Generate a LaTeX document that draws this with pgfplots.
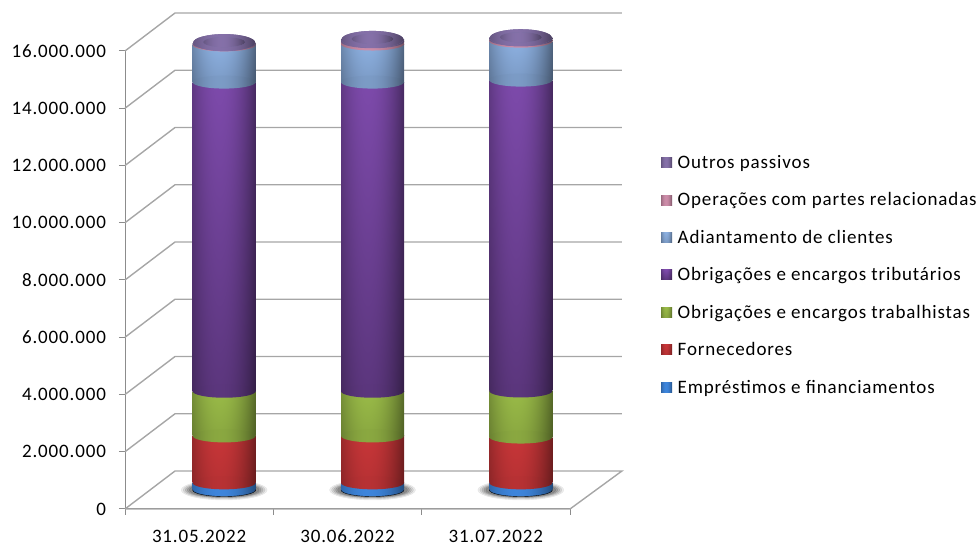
\documentclass[border=0pt]{standalone}
\usepackage{pgfplots}
\usepackage{pgfplotstable}
\pgfplotsset{compat=1.18}
\usepackage{fontspec}
\setmainfont[LetterSpace=4.5]{Carlito}
\definecolor{gridc}{HTML}{A6A6A6}
\definecolor{tickc}{HTML}{8C8C8C}
\newcommand{\cyl}[6]{%
 \pgfdeclarefunctionalshading{cyl#1}{\pgfpointorigin}{\pgfpoint{100bp}{100bp}}{}{%
   25 sub 50 div #6 #5 sub mul #5 add exch
   25 sub 50 div 0.42 sub dup mul 1.3 mul 1 exch sub mul
   dup #2 mul exch dup #3 mul exch #4 mul}%
 \pgfdeclarefunctionalshading{rim#1}{\pgfpointorigin}{\pgfpoint{100bp}{100bp}}{}{%
   pop 25 sub 50 div 0.42 sub dup mul 1.3 mul 1 exch sub #5 mul
   dup #2 mul exch dup #3 mul exch #4 mul}%
 \pgfdeclareplotmark{cap#1}{\path[shading=rim#1] (0,0) ellipse (31.5pt and 6.5pt);}%
}
\cyl{A}{0.24}{0.52}{0.86}{1}{1}
\cyl{B}{0.78}{0.21}{0.22}{0.92}{1}
\cyl{C}{0.60}{0.73}{0.28}{0.9}{1}
\cyl{D}{0.49}{0.29}{0.67}{0.73}{1}
\cyl{E}{0.55}{0.69}{0.88}{0.88}{1}
\cyl{F}{0.80}{0.55}{0.66}{1}{1}
\cyl{G}{0.52}{0.44}{0.66}{1}{1}
\definecolor{topc}{HTML}{7C6B9E}
\definecolor{topi}{HTML}{7872A4}
\pgfdeclareplotmark{topcap}{\path[fill=topc] (0,0) ellipse (31pt and 8.5pt);\path[fill=topi] (0,0.5pt) ellipse (21pt and 5pt);}
\pgfdeclareplotmark{shadowM}{%
  \path[fill=black,opacity=0.07] (0,0) ellipse (43pt and 10pt);
  \path[fill=black,opacity=0.10] (0,0) ellipse (41pt and 9pt);
  \path[fill=black,opacity=0.12] (0,0) ellipse (39pt and 8pt);
  \path[fill=black,opacity=0.14] (0,0) ellipse (37pt and 7.5pt);
  \path[fill=black,opacity=0.14] (0,0) ellipse (35pt and 7pt);}
\pgfplotstableread{
x     emp     forn    trab    trib     adi     ops    out
0.5  250000 1640000 1560000 10800000 1300000  40000  40000
}\stackA
\pgfplotstableread{
x     emp     forn    trab    trib     adi     ops    out
1.5  250000 1640000 1560000 10800000 1330000  80000  80000
}\stackB
\pgfplotstableread{
x     emp     forn    trab    trib     adi     ops    out
2.5  250000 1600000 1610000 10860000 1360000  50000  70000
}\stackC
\pgfplotsset{baraxis/.style={at={(150pt,56pt)},anchor=south west,scale only axis,width=445pt,height=458pt,
  xmin=0,xmax=3,ymin=0,ymax=16000000,clip=false,hide axis,
  ybar stacked,reverse stacked plots=false,bar width=63pt,
  legend cell align=left,reverse legend,
  legend style={draw=none,fill=none,at={(axis cs:3.445,3250000)},anchor=south west,
    font=\fontsize{19}{20}\selectfont,row sep=18.8pt,inner sep=0pt}},
  seg/.style={shading=cyl#1,draw=none,legend image code/.code={\path[shading=cyl#1](0,-5pt)rectangle(11pt,5pt);\path (14.5pt,0);}}}
\begin{document}
\begin{tikzpicture}[x=1pt,y=1pt]
\useasboundingbox (0,0) rectangle (978,546);
\begin{axis}[at={(125pt,37pt)},anchor=south west,scale only axis,width=445pt,height=458pt,
  xmin=0,xmax=3,ymin=0,ymax=16000000,clip=false,scaled y ticks=false,
  axis lines=left,axis line style={tickc,line width=1pt,-},
  xtick={0,1,2,3},xticklabels={},
  extra x ticks={0.5,1.5,2.5},extra x tick labels={31.05.2022,30.06.2022,31.07.2022},
  extra x tick style={major tick length=0pt,tick label style={yshift=-18pt,text height=12pt,text depth=0pt}},
  ytick={0,2000000,4000000,6000000,8000000,10000000,12000000,14000000,16000000},
  yticklabels={0,2.000.000,4.000.000,6.000.000,8.000.000,10.000.000,12.000.000,14.000.000,16.000.000},
  tick style={tickc,line width=1pt},tick align=outside,major tick length=6pt,
  tick label style={font=\fontsize{19}{20}\selectfont,text=black},
  y tick label style={xshift=-9.5pt},
  ]
  \addplot[gridc,line width=1.4pt] coordinates {(0,0)(0.337,1327000)(3.35,1327000)(3,0)(0,0)};
  \addplot[gridc,line width=1.4pt] coordinates {(0,2000000)(0.337,3327000)(3.35,3327000)};
  \addplot[gridc,line width=1.4pt] coordinates {(0,4000000)(0.337,5327000)(3.35,5327000)};
  \addplot[gridc,line width=1.4pt] coordinates {(0,6000000)(0.337,7327000)(3.35,7327000)};
  \addplot[gridc,line width=1.4pt] coordinates {(0,8000000)(0.337,9327000)(3.35,9327000)};
  \addplot[gridc,line width=1.4pt] coordinates {(0,10000000)(0.337,11327000)(3.35,11327000)};
  \addplot[gridc,line width=1.4pt] coordinates {(0,12000000)(0.337,13327000)(3.35,13327000)};
  \addplot[gridc,line width=1.4pt] coordinates {(0,14000000)(0.337,15327000)(3.35,15327000)};
  \addplot[gridc,line width=1.4pt] coordinates {(0,16000000)(0.337,17327000)(3.35,17327000)};
\end{axis}
\begin{axis}[at={(150pt,56pt)},anchor=south west,scale only axis,width=445pt,height=458pt,
  xmin=0,xmax=3,ymin=0,ymax=16000000,clip=false,hide axis]
  \addplot[only marks,mark=shadowM] coordinates {(0.5,0)(1.5,0)(2.5,0)};
  \addplot[only marks,mark=capA] coordinates {(0.5,0)(1.5,0)(2.5,0)};
\end{axis}
\begin{axis}[baraxis]
  \addplot[seg=A,mark=capB] table[x=x,y=emp] {\stackA};
  \addplot[seg=B,mark=capC] table[x=x,y=forn] {\stackA};
  \addplot[seg=C,mark=capD] table[x=x,y=trab] {\stackA};
  \addplot[seg=D,mark=capE] table[x=x,y=trib] {\stackA};
  \addplot[seg=E,mark=capF] table[x=x,y=adi] {\stackA};
  \addplot[seg=F,mark=capG] table[x=x,y=ops] {\stackA};
  \addplot[seg=G,mark=topcap] table[x=x,y=out] {\stackA};
\end{axis}
\begin{axis}[baraxis]
  \addplot[seg=A,mark=capB] table[x=x,y=emp] {\stackB};
  \addplot[seg=B,mark=capC] table[x=x,y=forn] {\stackB};
  \addplot[seg=C,mark=capD] table[x=x,y=trab] {\stackB};
  \addplot[seg=D,mark=capE] table[x=x,y=trib] {\stackB};
  \addplot[seg=E,mark=capF] table[x=x,y=adi] {\stackB};
  \addplot[seg=F,mark=capG] table[x=x,y=ops] {\stackB};
  \addplot[seg=G,mark=topcap] table[x=x,y=out] {\stackB};
\end{axis}
\begin{axis}[baraxis]
  \addplot[seg=A,mark=capB] table[x=x,y=emp] {\stackC};
  \addlegendentry{Empréstimos e financiamentos}
  \addplot[seg=B,mark=capC] table[x=x,y=forn] {\stackC};
  \addlegendentry{Fornecedores}
  \addplot[seg=C,mark=capD] table[x=x,y=trab] {\stackC};
  \addlegendentry{Obrigações e encargos trabalhistas}
  \addplot[seg=D,mark=capE] table[x=x,y=trib] {\stackC};
  \addlegendentry{Obrigações e encargos tributários}
  \addplot[seg=E,mark=capF] table[x=x,y=adi] {\stackC};
  \addlegendentry{Adiantamento de clientes}
  \addplot[seg=F,mark=capG] table[x=x,y=ops] {\stackC};
  \addlegendentry{Operações com partes relacionadas}
  \addplot[seg=G,mark=topcap] table[x=x,y=out] {\stackC};
  \addlegendentry{Outros passivos}
\end{axis}
\end{tikzpicture}
\end{document}
